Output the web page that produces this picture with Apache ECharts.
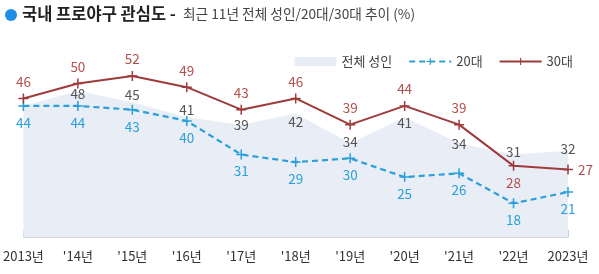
<!DOCTYPE html>
<html><head><meta charset="utf-8">
<script src="https://cdn.jsdelivr.net/npm/echarts@6/dist/echarts.min.js"></script>
<style>html,body{margin:0;padding:0;background:#fff}#c{width:599px;height:274px}</style>
</head><body><div id="c"></div>
<script>
const years = ["2013년","'14년","'15년","'16년","'17년","'18년","'19년","'20년","'21년","'22년","2023년"];
const allAdults = [44, 48, 45, 41, 39, 42, 34, 41, 34, 31, 32];
const age20s = [44, 44, 43, 40, 31, 29, 30, 25, 26, 18, 21];
const age30s = [46, 50, 52, 49, 43, 46, 39, 44, 39, 28, 27];
// label placement styles (not data)
const areaLabelShow = [false, true, true, true, true, true, true, true, true, true, true];
const areaLabelDy = [0, 3, -7, -7, 0, 8, -1, 6, 1, -3, -2];
const age30LabelPos = ['top','top','top','top','top','top','top','top','top','bottom','right'];

const FONT = "'Noto Sans CJK KR','Noto Sans',sans-serif";
const cross = 'path://M4.25,0h1.5v4.25h4.25v1.5h-4.25v4.25h-1.5v-4.25h-4.25v-1.5h4.25z';
const C30 = '#9e3b3b', C30L = '#b4504c', C20 = '#2a9fd8', AREA = '#e9eef6';

const chart = echarts.init(document.getElementById('c'));
chart.setOption({
  animation: false,
  textStyle: {fontFamily: FONT},
  graphic: [
    {type:'circle', shape:{cx:11, cy:15, r:6}, style:{fill:'#1d8fe6'}},
    {type:'text', left:22, top:5, style:{text:'국내 프로야구 관심도 -', font:"bold 16.5px "+FONT, fill:'#222'}},
    {type:'text', left:183, top:7, style:{text:'최근 11년 전체 성인/20대/30대 추이 (%)', font:"13.7px "+FONT, fill:'#444'}}
  ],
  legend: {
    top: 50, right: 21, itemWidth: 42, itemHeight: 9, itemGap: 16,
    textStyle: {fontSize: 13, color: '#444', fontFamily: FONT},
    data: [
      {name:'전체 성인', icon:'rect', itemStyle:{color:AREA, opacity:1}},
      {name:'20대'},
      {name:'30대'}
    ]
  },
  grid: {left: 22, right: 31, top: 46, bottom: 37},
  xAxis: {
    type: 'category', data: years, boundaryGap: false,
    axisLine: {lineStyle: {color: '#d8d8d8'}},
    axisTick: {show: true, alignWithLabel: true, inside: true, length: 7, lineStyle: {color: '#d0d0d0'}},
    axisLabel: {color: '#333', fontSize: 13, margin: 13, fontFamily: FONT}
  },
  yAxis: {type: 'value', min: 9, max: 60, show: false, splitLine: {show: false}},
  series: [
    {
      name: '전체 성인', type: 'line', z: 1,
      data: allAdults.map((v, i) => ({value: v, label: {show: areaLabelShow[i], position: 'inside', offset: [0, areaLabelDy[i]]}})),
      symbol: 'circle', symbolSize: 0.1,
      itemStyle: {color: AREA},
      lineStyle: {width: 0},
      areaStyle: {color: AREA, opacity: 1},
      label: {show: true, color: '#555', fontSize: 13.5, fontFamily: FONT}
    },
    {
      name: '20대', type: 'line', z: 3,
      data: age20s,
      symbol: cross, symbolSize: 10,
      itemStyle: {color: C20},
      lineStyle: {color: C20, width: 2.2, type: [6, 4]},
      label: {show: true, position: 'bottom', color: C20, fontSize: 13.5, distance: 5, fontFamily: FONT}
    },
    {
      name: '30대', type: 'line', z: 4,
      data: age30s.map((v, i) => ({value: v, label: {position: age30LabelPos[i]}})),
      symbol: cross, symbolSize: 10,
      itemStyle: {color: C30},
      lineStyle: {color: C30, width: 2},
      label: {show: true, color: C30L, fontSize: 13.5, distance: 5, fontFamily: FONT}
    }
  ]
});
</script></body></html>
